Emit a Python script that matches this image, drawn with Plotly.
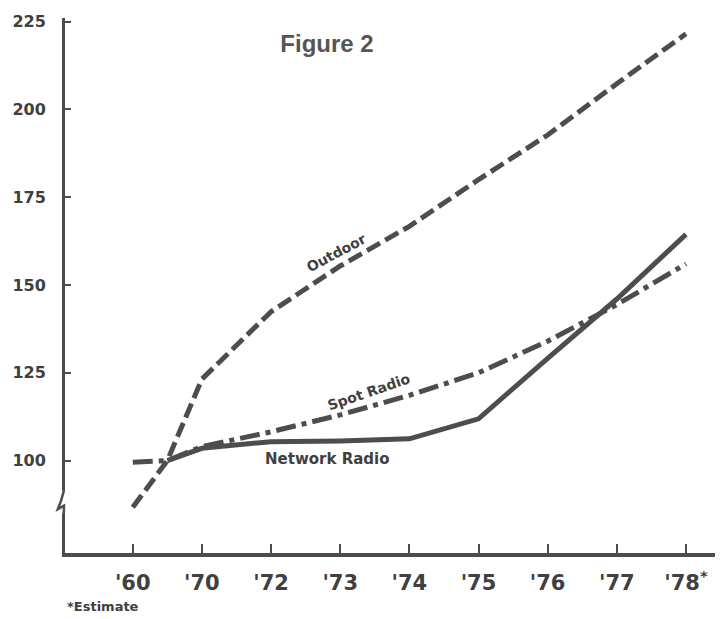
import plotly.graph_objects as go

# ---- data (index values; 1965 = 100 base, drawn between '60 and '70) ----
x_positions = [0, 0.5, 1, 2, 3, 4, 5, 6, 7, 8]
tick_positions = [0, 1, 2, 3, 4, 5, 6, 7, 8]
tick_labels = ["'60", "'70", "'72", "'73", "'74", "'75", "'76", "'77", "'78<sup>*</sup>"]
outdoor = [86.7, 100, 123.2, 142.4, 155.4, 166.7, 180.0, 192.7, 207.3, 221.5]
spot_radio = [99.5, 100, 104.0, 108.2, 113.0, 118.6, 125.0, 134.0, 144.4, 156.0]
network_radio = [None, 100, 103.5, 105.4, 105.6, 106.2, 111.9, 129.1, 146.0, 164.4]
y_ticks = [100, 125, 150, 175, 200, 225]

INK = "#4d4d4d"
TXT = "#404040"
LBL_FONT = "DejaVu Sans"

fig = go.Figure()
fig.add_trace(go.Scatter(x=x_positions, y=outdoor, mode="lines", name="Outdoor",
                         line=dict(color=INK, width=5, dash="15px,6px")))
fig.add_trace(go.Scatter(x=x_positions, y=spot_radio, mode="lines", name="Spot Radio",
                         line=dict(color=INK, width=5, dash="20px,6px,5px,6px")))
fig.add_trace(go.Scatter(x=x_positions, y=network_radio, mode="lines", name="Network Radio",
                         line=dict(color=INK, width=5), connectgaps=False))

fig.update_layout(
    width=727, height=619,
    margin=dict(l=60, r=12, t=14, b=66),
    paper_bgcolor="white", plot_bgcolor="white",
    showlegend=False,
    title=dict(text="<b>Figure 2</b>", x=327/727, y=1-44/619, xref="container", yref="container",
               xanchor="center", yanchor="middle",
               font=dict(family="Liberation Sans, Arial", size=24, color="#555555")),
    xaxis=dict(range=[-0.98, 8.42], showgrid=False, zeroline=False,
               showline=True, linecolor=INK, linewidth=4,
               tickmode="array", tickvals=tick_positions, ticktext=tick_labels,
               ticks="inside", ticklen=9, tickwidth=2, tickcolor=INK,
               ticklabelstandoff=8,
               tickfont=dict(family=LBL_FONT, size=21, color=TXT, weight="bold")),
    yaxis=dict(range=[73.7, 226.0], showgrid=False, zeroline=False,
               showline=True, linecolor=INK, linewidth=3,
               tickmode="array", tickvals=y_ticks,
               ticks="inside", ticklen=6, tickwidth=2, tickcolor=INK,
               ticklabelstandoff=13,
               tickfont=dict(family=LBL_FONT, size=16, color=TXT, weight="bold")),
)

# axis break on the y axis
fig.add_shape(type="rect", xref="paper", yref="y", x0=-0.012, x1=0.008, y0=85.0, y1=91.5,
              fillcolor="white", line=dict(width=0), layer="above")
fig.add_shape(type="path", xref="paper", yref="y",
              path="M -0.0015 91.6 L -0.006 88.6 L -0.011 86.2 L -0.0015 87.2 L -0.002 84.6",
              line=dict(color=INK, width=2.5), layer="above")

ann_font = dict(family=LBL_FONT, size=14, color=TXT, weight="bold")
fig.add_annotation(x=2.94, y=159.0, text="Outdoor", showarrow=False, textangle=-28, font=ann_font)
fig.add_annotation(x=3.41, y=119.4, text="Spot Radio", showarrow=False, textangle=-19, font=ann_font)
fig.add_annotation(x=2.82, y=100.6, text="Network Radio", showarrow=False,
                   font=dict(family=LBL_FONT, size=15, color=TXT, weight="bold"))
fig.add_annotation(x=0.0, y=-(607-553)/539, xref="paper", yref="paper", xanchor="left", yanchor="middle",
                   text="*Estimate", showarrow=False,
                   font=dict(family=LBL_FONT, size=13, color=TXT, weight="bold"))

fig.write_html("out.html", config={"displayModeBar": False},
               post_script="document.body.style.margin='0';")
